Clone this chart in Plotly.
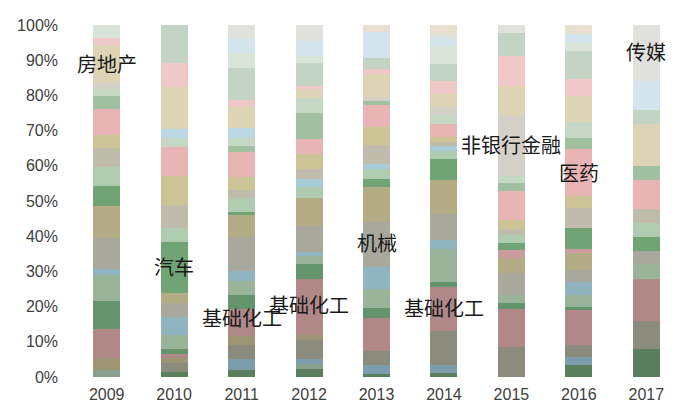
import plotly.graph_objects as go

years = ["2009", "2010", "2011", "2012", "2013", "2014", "2015", "2016", "2017"]

# stacked series, bottom to top (share of total, %)
series_names = ["行业A", "行业A2", "行业B", "行业C", "行业D", "基础化工", "行业F", "行业G", "行业H",
                "机械", "行业J", "行业J2", "汽车", "行业L", "行业L2", "行业M", "行业N", "医药",
                "行业P", "行业Q", "行业Q2", "非银行金融", "房地产", "行业T", "行业U", "行业V",
                "行业W", "传媒", "行业Y"]

A  = [0, 1.4, 2.1, 2.2, 0.9, 1.2, 0, 3.3, 8.0]
A2 = [1.9, 0, 0, 1.6, 0, 0, 0, 0, 0]
B  = [0, 0, 3.1, 1.4, 2.4, 2.3, 0, 2.4, 0]
C  = [0, 2.6, 4.0, 5.2, 4.1, 9.7, 8.5, 3.3, 8.0]
D  = [3.5, 1.3, 2.6, 1.4, 0, 0, 0, 0, 0]
E  = [8.3, 1.2, 7.5, 16.0, 9.2, 12.3, 10.8, 9.9, 11.8]
F  = [8.0, 1.4, 4.0, 4.2, 3.0, 1.4, 1.9, 0.9, 0]
G  = [7.3, 4.0, 4.1, 2.2, 5.3, 9.4, 2.1, 3.5, 4.2]
H  = [1.7, 5.0, 2.8, 1.1, 6.3, 2.6, 0, 3.8, 0]
I  = [9.0, 4.2, 9.7, 7.5, 12.7, 7.3, 6.4, 3.4, 3.8]
J  = [9.2, 2.8, 6.1, 7.7, 9.9, 9.7, 4.2, 4.7, 0]
J2 = [0, 0, 0, 0, 0, 0, 2.2, 1.1, 0]
K  = [5.7, 14.3, 0.8, 0, 2.2, 6.0, 2.1, 6.1, 4.1]
L  = [5.3, 4.1, 4.1, 3.1, 3.0, 2.4, 2.1, 0, 4.0]
L2 = [0, 0, 0, 2.4, 1.2, 1.4, 0, 0, 0]
M  = [5.4, 6.6, 2.2, 2.8, 5.4, 1.2, 1.9, 5.7, 4.0]
N  = [3.8, 8.2, 3.8, 4.2, 5.2, 1.2, 2.5, 3.3, 0]
O  = [7.3, 8.0, 7.0, 4.2, 6.3, 3.8, 8.2, 13.2, 8.1]
P  = [3.8, 0, 1.7, 7.5, 1.2, 0, 2.4, 3.3, 4.0]
Q  = [1.9, 2.6, 2.4, 4.2, 0, 2.4, 1.9, 4.4, 0]
Q2 = [0, 2.5, 2.8, 0, 0, 0, 0, 0, 0]
R  = [1.9, 0, 0, 0, 1.0, 2.4, 17.2, 0, 0]
S  = [10.7, 12.1, 6.1, 2.5, 6.4, 3.8, 8.5, 7.5, 12.0]
T  = [1.9, 6.8, 1.9, 0.9, 1.4, 3.5, 8.5, 4.7, 0]
U  = [0, 10.7, 9.2, 6.4, 3.2, 5.0, 6.6, 8.1, 3.9]
V  = [3.8, 0, 4.0, 2.1, 0, 4.9, 0, 2.3, 0]
W  = [0, 0, 4.0, 4.3, 7.3, 2.4, 0, 2.5, 8.2]
X  = [0, 0, 4.1, 4.4, 0, 1.2, 2.2, 0, 16.0]
Y  = [0, 0, 0, 0, 2.1, 2.5, 0, 2.5, 0]

series_values = [A, A2, B, C, D, E, F, G, H, I, J, J2, K, L, L2, M, N, O, P, Q, Q2, R, S, T, U, V, W, X, Y]

colors = ["#5a7f5c", "#88a08c", "#7c9eac", "#8c8c7e", "#9c9472", "#b08888", "#64946c", "#9ab49a",
          "#90b4c0", "#a8a89c", "#b4ac84", "#cc9ca0", "#70a474", "#b0ccb0", "#a8ccd8", "#c0bcac",
          "#ccc494", "#e8b4b4", "#a0c0a0", "#c4d8c4", "#bcd8e4", "#d4d0c8", "#dcd4b4", "#f0c8c8",
          "#c4d4c4", "#d8e4d8", "#d4e4ec", "#e0e0dc", "#e8e0cc"]

# labels placed on the chart
label_texts = ["房地产", "汽车", "基础化工", "基础化工", "机械", "基础化工", "非银行金融", "医药", "传媒"]
label_years = ["2009", "2010", "2011", "2012", "2013", "2014", "2015", "2016", "2017"]
label_y = [89.0, 31.4, 17.0, 20.5, 38.1, 19.8, 66.0, 58.2, 92.4]

fig = go.Figure()
for name, vals, col in zip(series_names, series_values, colors):
    fig.add_trace(go.Bar(x=years, y=vals, name=name, marker=dict(color=col, line=dict(width=0)),
                         showlegend=False))

for t, xv, yv in zip(label_texts, label_years, label_y):
    fig.add_annotation(x=years.index(xv), y=yv, xref="x", yref="y", text=t, showarrow=False,
                       font=dict(family="Noto Sans CJK SC", size=20, color="#1a1a1a"))

fig.update_layout(
    width=681, height=420,
    margin=dict(l=63, r=9, t=15, b=51),
    barmode="stack", barnorm="percent", bargap=0.6,
    plot_bgcolor="white", paper_bgcolor="white",
    font=dict(family="Liberation Sans", size=16, color="#404040"),
)
fig.update_xaxes(type="category", showgrid=False, showline=False, ticks="",
                 range=[-0.5, len(years) - 0.5], ticklabelstandoff=6,
                 tickfont=dict(size=16, color="#404040"))
fig.update_yaxes(range=[0, 100], dtick=10, ticksuffix="%", showgrid=False, showline=False,
                 zeroline=False, ticks="", ticklabelstandoff=14,
                 tickfont=dict(size=16, color="#404040"))

fig.write_html("out.html")
